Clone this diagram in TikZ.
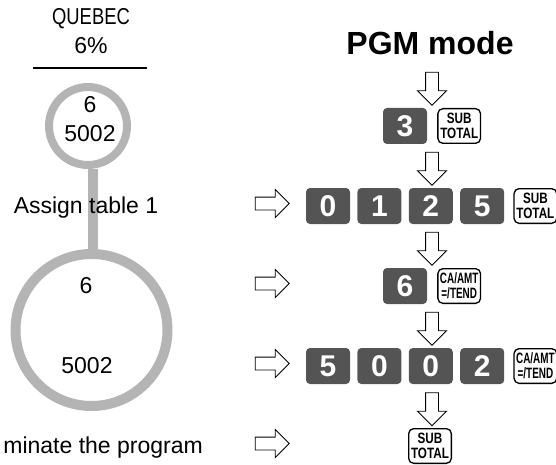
\documentclass[tikz,border=0pt]{standalone}
\usepackage{fontspec}
\setmainfont{Liberation Sans}
\usetikzlibrary{positioning, shapes.arrows}
\definecolor{ringgray}{RGB}{180,180,180}
\definecolor{keygray}{RGB}{84,84,84}
\newcommand{\subkey}{\scalebox{0.78}[1]{SUB}\\\scalebox{0.78}[1]{TOTAL}}
\newcommand{\cakey}{\scalebox{0.66}[1]{CA/AMT}\\\scalebox{0.66}[1]{=/TEND}}

\begin{document}
\begin{tikzpicture}[x=1pt,y=-1pt,node distance=7pt,
  txt/.style={inner sep=0pt,anchor=base,font=\fontsize{23}{28}\selectfont},
  numkey/.style={rectangle,rounded corners=4pt,fill=keygray,text=white,minimum width=44pt,minimum height=36pt,inner sep=0pt,font=\fontsize{30}{30}\selectfont\bfseries},
  fnkey/.style={rectangle,rounded corners=5pt,draw=black,line width=1.3pt,fill=white,minimum width=42.7pt,minimum height=34.7pt,inner sep=0pt,align=center,font=\fontsize{15}{15}\selectfont\bfseries},
  ring/.style={circle,draw=ringgray,fill=white,inner sep=0pt},
  dnarrow/.style={single arrow,draw,fill=white,line width=0.9pt,single arrow head extend=8pt,minimum width=28pt,minimum height=33pt,inner xsep=0pt,inner ysep=6pt,rotate=-90},
  rtarrow/.style={single arrow,draw,fill=white,line width=0.9pt,single arrow head extend=7.5pt,minimum width=27pt,minimum height=34pt,inner xsep=0pt,inner ysep=6pt}]
  \useasboundingbox (0,0) rectangle (556,465);

  \node[txt] (quebec) at (91,25) {\scalebox{0.8}[1]{QUEBEC}};
  \node[txt] (rate)   at (91,54) {6\%};
  \coordinate (ruleL) at (33,68);
  \coordinate (ruleR) at (147,68);
  \draw[line width=2pt] (ruleL) -- (ruleR);

  \node[ring,line width=8pt,minimum size=78pt]   (tc) at (88,126) {};
  \node[ring,line width=10pt,minimum size=152pt] (bc) at (91.5,330) {};
  \draw[ringgray,line width=10pt] ([xshift=5pt]tc.south) -- ([xshift=1.5pt]bc.north);

  \node[txt] (tsix)   at (90,113)  {6};
  \node[txt] (tnum)   at (90,142)  {5002};
  \node[txt] (assign) at (86,213)  {Assign table 1};
  \node[txt] (bsix)   at (86,293)  {6};
  \node[txt] (bnum)   at (87,373)  {5002};
  \node[txt,anchor=base east] (term) at (203,453) {minate the program};

  \node[txt,font=\fontsize{32}{36}\selectfont\bfseries] (pgm) at (430,55) {PGM mode};

  \node[numkey]                  (k3)  at (405,126) {3};
  \node[fnkey,right=10pt of k3]  (st1) {\subkey};

  \node[numkey]                  (r2a) at (328,206) {0};
  \node[numkey,right=of r2a]     (r2b) {1};
  \node[numkey,right=of r2b]     (r2c) {2};
  \node[numkey,right=of r2c]     (r2d) {5};
  \node[fnkey,right=9pt of r2d]  (st2) {\subkey};

  \node[numkey]                  (k6)  at (405,286) {6};
  \node[fnkey,right=10pt of k6]  (ca1) {\cakey};

  \node[numkey]                  (r4a) at (328,366) {5};
  \node[numkey,right=of r4a]     (r4b) {0};
  \node[numkey,right=of r4b]     (r4c) {0};
  \node[numkey,right=of r4c]     (r4d) {2};
  \node[fnkey,right=9pt of r4d]  (ca2) {\cakey};

  \node[fnkey]                   (st5) at (430,446) {\subkey};

  \node[dnarrow] (d1) at (432,85.5)  {};
  \node[dnarrow] (d2) at (432,165.5) {};
  \node[dnarrow] (d3) at (432,245.5) {};
  \node[dnarrow] (d4) at (432,325.5) {};
  \node[dnarrow] (d5) at (432,406)   {};

  \node[rtarrow] (e2) at (269,203.5) {};
  \node[rtarrow] (e3) at (269,283.5) {};
  \node[rtarrow] (e4) at (269,363.5) {};
  \node[rtarrow] (e5) at (269,443.5) {};
\end{tikzpicture}
\end{document}
